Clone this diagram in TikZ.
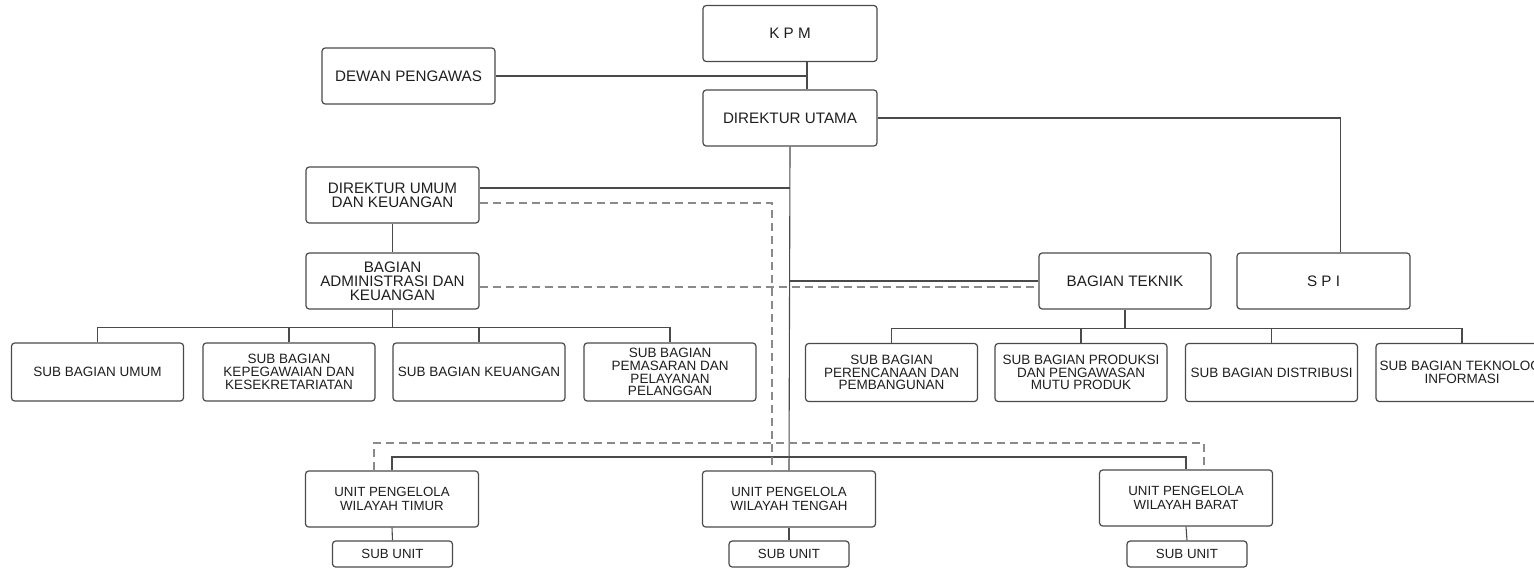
\documentclass[tikz,border=0pt]{standalone}
\usepackage{fontspec}
\setmainfont{Liberation Sans}
\definecolor{ln}{HTML}{4A4A4A}
\definecolor{dl}{HTML}{8A8A8A}
\definecolor{tx}{HTML}{1E1E1E}
\begin{document}
\begin{tikzpicture}[x=0.5pt,y=-0.5pt,
  every node/.style={inner sep=0pt,align=center,text=tx},
  bigbox/.style={draw=ln,line width=0.6pt,rounded corners=1.6pt,minimum width=87pt,minimum height=28pt,font=\fontsize{7.6}{7}\selectfont},
  subbox/.style={draw=ln,line width=0.6pt,rounded corners=1.6pt,minimum width=86pt,minimum height=29pt,font=\fontsize{6.75}{6.4}\selectfont},
  unitbox/.style={draw=ln,line width=0.6pt,rounded corners=1.6pt,minimum width=86.5pt,minimum height=28pt,font=\fontsize{6.65}{6.8}\selectfont},
  subunit/.style={draw=ln,line width=0.6pt,rounded corners=1.6pt,minimum width=60pt,minimum height=13pt,font=\fontsize{6.65}{6.8}\selectfont},
  link/.style={draw=ln,line width=0.55pt},
  dlink/.style={draw=dl,line width=0.55pt,dash pattern=on 4pt off 2.5pt}]
\useasboundingbox (0,0) rectangle (1534,568);
\clip (0,0) rectangle (1534,568);
% top
\node[bigbox] (kpm) at (790,33.5) {K P M};
\node[bigbox,minimum width=86.5pt] (dewan) at (408.5,76) {DEWAN PENGAWAS};
\node[bigbox] (du) at (790,118) {DIREKTUR UTAMA};
\node[bigbox,minimum width=86.5pt] (duk) at (392.5,195) {DIREKTUR UMUM\\DAN KEUANGAN};
\node[bigbox,minimum width=86.5pt] (bak) at (392.5,281) {BAGIAN\\ADMINISTRASI DAN\\KEUANGAN};
\node[bigbox,minimum width=86pt] (bt) at (1125,281) {BAGIAN TEKNIK};
\node[bigbox,minimum width=86.5pt] (spi) at (1323.5,281) {S P I};
% sub bagian left
\node[subbox] (sb1) at (97.5,372) {SUB BAGIAN UMUM};
\node[subbox] (sb2) at (289,372) {SUB BAGIAN\\KEPEGAWAIAN DAN\\KESEKRETARIATAN};
\node[subbox] (sb3) at (479,372) {SUB BAGIAN KEUANGAN};
\node[subbox] (sb4) at (670,372) {SUB BAGIAN\\PEMASARAN DAN\\PELAYANAN\\PELANGGAN};
% sub bagian right
\node[subbox] (sb5) at (891.5,372.5) {SUB BAGIAN\\PERENCANAAN DAN\\PEMBANGUNAN};
\node[subbox] (sb6) at (1081,372.5) {SUB BAGIAN PRODUKSI\\DAN PENGAWASAN\\MUTU PRODUK};
\node[subbox] (sb7) at (1271.5,372.5) {SUB BAGIAN DISTRIBUSI};
\node[subbox] (sb8) at (1462,372.5) {SUB BAGIAN TEKNOLOGI\\INFORMASI};
% units
\node[unitbox] (upt) at (392,499) {UNIT PENGELOLA\\WILAYAH TIMUR};
\node[unitbox] (upm) at (789,499) {UNIT PENGELOLA\\WILAYAH TENGAH};
\node[unitbox] (upb) at (1186,498) {UNIT PENGELOLA\\WILAYAH BARAT};
\node[subunit] (su1) at (392.5,554) {SUB UNIT};
\node[subunit] (su2) at (789,554) {SUB UNIT};
\node[subunit] (su3) at (1187,554) {SUB UNIT};
% helper coordinates
\coordinate (kd) at ([xshift=8.5pt]kpm.south);
\coordinate (lbus) at (393,327.5);
\coordinate (rbus) at (1123,328.5);
\coordinate (ubus) at (789,457);
\coordinate (dbus) at (789,443);
% solid connectors
\draw[link] (kd) -- (kd |- du.north);
\draw[link] (dewan.east) -- (dewan.east -| kd);
\draw[link] (du.east) -| ([xshift=8.3pt]spi.north);
\draw[link] (du.south) -- (upm.north);
\draw[link] ([yshift=3.5pt]duk.east) -- ([yshift=3.5pt]duk.east -| du.south);
\draw[link] (duk.south) -- (bak.north);
\draw[link] (bt.west) -- (bt.west -| du.south);
\draw[link] (bak.south) -- (bak.south |- lbus);
\draw[link] (sb1.north) |- (sb4.north |- lbus) -- (sb4.north);
\draw[link] (sb2.north) -- (sb2.north |- lbus);
\draw[link] (sb3.north) -- (sb3.north |- lbus);
\draw[link] (bt.south) -- (bt.south |- rbus);
\draw[link] (sb5.north) |- (sb8.north |- rbus) -- (sb8.north);
\draw[link] (sb6.north) -- (sb6.north |- rbus);
\draw[link] (sb7.north) -- (sb7.north |- rbus);
\draw[link] (upt.north) |- (upb.north |- ubus) -- (upb.north);
\draw[link] (upt.south) -- (su1.north);
\draw[link] (upm.south) -- (su2.north);
\draw[link] (upb.south) -- (su3.north);
% dashed connectors
\draw[dlink] ([yshift=-4pt]duk.east) -| ([xshift=-8.5pt]upm.north);
\draw[dlink] ([yshift=-3pt]bak.east) -- ([yshift=-3pt]bt.west);
\draw[dlink] ([xshift=-9pt]upt.north) |- ([xshift=9pt]upb.north |- dbus) -- ([xshift=9pt]upb.north);
\end{tikzpicture}
\end{document}
